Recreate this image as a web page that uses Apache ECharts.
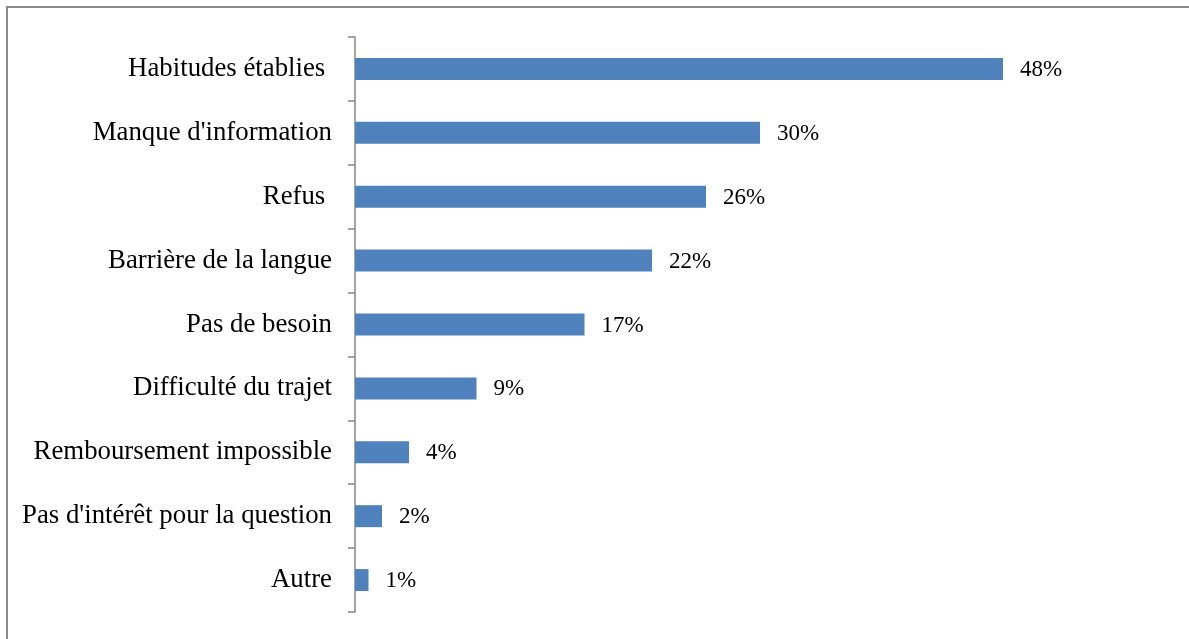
<!DOCTYPE html>
<html>
<head>
<meta charset="utf-8">
<script src="https://cdn.jsdelivr.net/npm/echarts@6/dist/echarts.min.js"></script>
<style>
  html, body { margin: 0; padding: 0; background: #fff; }
  #chart { width: 1189px; height: 639px; }
</style>
</head>
<body>
<div id="chart"></div>
<script>
// Reasons given, top to bottom
const categories = [
  'Habitudes établies ',
  "Manque d'information",
  'Refus ',
  'Barrière de la langue',
  'Pas de besoin',
  'Difficulté du trajet',
  'Remboursement impossible',
  "Pas d'intérêt pour la question",
  'Autre'
];
// Share of respondents (%)
const shares = [48, 30, 26, 22, 17, 9, 4, 2, 1];

const chart = echarts.init(document.getElementById('chart'));
chart.setOption({
  animation: false,
  backgroundColor: '#fff',
  textStyle: { fontFamily: '"Liberation Serif", "Times New Roman", serif' },
  graphic: [{
    type: 'rect',
    shape: { x: 7, y: 7, width: 1400, height: 900 },
    style: { fill: 'none', stroke: '#8a8a8a', lineWidth: 2 },
    silent: true
  }],
  grid: { left: 355, top: 37, bottom: 27, right: 24, containLabel: false },
  xAxis: {
    type: 'value',
    min: 0,
    max: 60,
    show: false
  },
  yAxis: {
    type: 'category',
    data: categories,
    inverse: true,
    axisLine: { show: true, lineStyle: { color: '#868686', width: 1.5 } },
    axisTick: { show: true, length: 7, lineStyle: { color: '#868686', width: 1.5 } },
    axisLabel: {
      margin: 23,
      color: '#000',
      fontSize: 26.8,
      fontFamily: '"Liberation Serif", "Times New Roman", serif'
    },
    splitLine: { show: false }
  },
  series: [{
    type: 'bar',
    data: shares,
    barWidth: 22,
    itemStyle: { color: '#4F81BD' },
    label: {
      show: true,
      position: 'right',
      distance: 17,
      offset: [0, 1],
      color: '#000',
      fontSize: 23,
      fontFamily: '"Liberation Serif", "Times New Roman", serif',
      formatter: p => p.value + '%'
    }
  }]
});
</script>
</body>
</html>
